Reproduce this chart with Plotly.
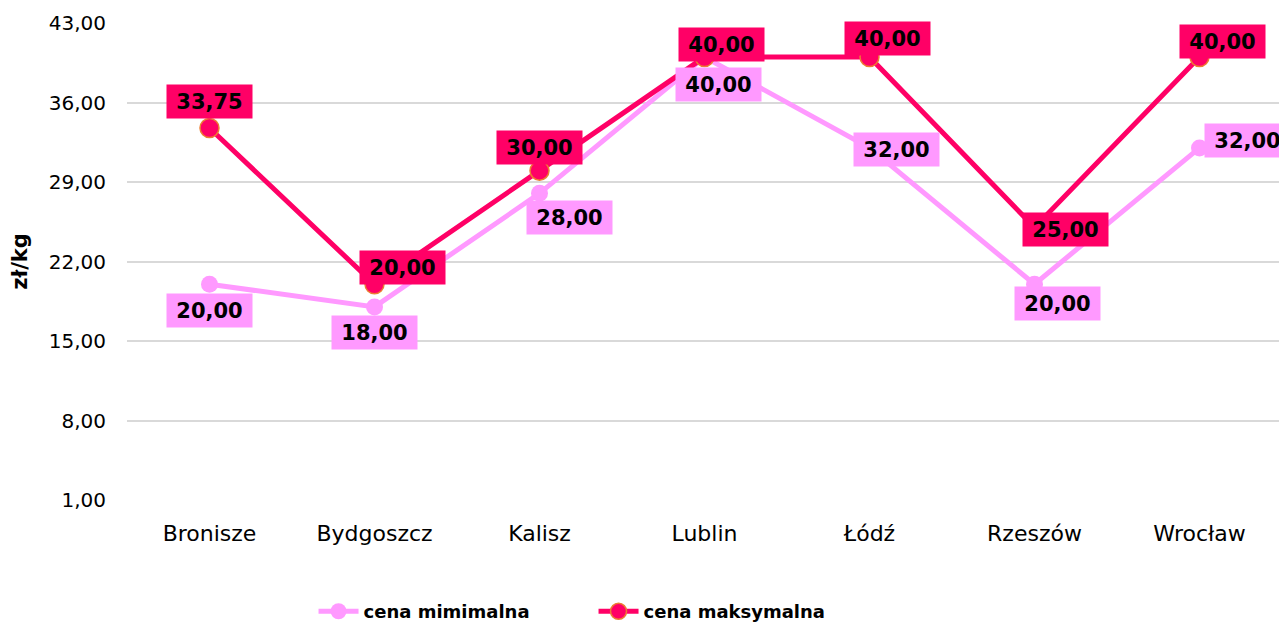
import plotly.graph_objects as go

categories = ["Bronisze", "Bydgoszcz", "Kalisz", "Lublin", "Łódź", "Rzeszów", "Wrocław"]
cena_min = [20.00, 18.00, 28.00, 40.00, 32.00, 20.00, 32.00]
cena_max = [33.75, 20.00, 30.00, 40.00, 40.00, 25.00, 40.00]
series_names = ["cena mimimalna", "cena maksymalna"]
y_ticks = [1, 8, 15, 22, 29, 36, 43]

# label offsets in px (x, y up)
min_shift = [(0, -26), (0, -26), (30, -24), (14, -27), (27, -2), (23, -19), (48, 7)]
max_shift = [(0, 27), (28, 17), (0, 23), (17, 13), (18, 19), (31, -2), (23, 16)]

C_MIN = "#FF99FF"
C_MAX = "#FF0066"
FONT = "DejaVu Sans, Verdana, sans-serif"


def fmt(v):
    return f"{v:.2f}".replace(".", ",")


fig = go.Figure()
fig.add_trace(go.Scatter(
    x=categories, y=cena_min, name=f"<b>{series_names[0]}</b>", mode="lines+markers",
    line=dict(color=C_MIN, width=5),
    marker=dict(color=C_MIN, size=17, line=dict(color=C_MIN, width=0)),
))
fig.add_trace(go.Scatter(
    x=categories, y=cena_max, name=f"<b>{series_names[1]}</b>", mode="lines+markers",
    line=dict(color=C_MAX, width=5),
    marker=dict(color=C_MAX, size=19, line=dict(color="#ED7D31", width=1.5)),
))

annotations = []
for vals, shifts, col in ((cena_min, min_shift, C_MIN), (cena_max, max_shift, C_MAX)):
    for c, v, (dx, dy) in zip(categories, vals, shifts):
        annotations.append(dict(
            x=c, y=v, xref="x", yref="y", text=f"<b>{fmt(v)}</b>",
            showarrow=False, xshift=dx, yshift=dy,
            bgcolor=col, borderpad=3, width=79, height=27,
            font=dict(family=FONT, size=21, color="#000000"),
            align="center", valign="middle",
        ))

fig.update_layout(
    width=1279, height=620,
    paper_bgcolor="white", plot_bgcolor="white",
    margin=dict(l=119, r=5, t=15, b=128, autoexpand=False),
    separators=",.",
    font=dict(family=FONT, size=20, color="#000000"),
    showlegend=True,
    legend=dict(
        orientation="h", x=0.1615, xanchor="left", y=-0.2727, yanchor="bottom",
        font=dict(family=FONT, size=18, color="#000000"),
        entrywidth=225, entrywidthmode="pixels", itemwidth=40,
    ),
    annotations=annotations,
)

fig.update_xaxes(
    type="category", range=[-0.5, 6.5], showgrid=False, zeroline=False,
    showline=False, ticks="", tickfont=dict(family=FONT, size=22, color="#000000"),
    ticklabelstandoff=18, automargin=False,
)
fig.update_yaxes(
    range=[1, 43], tickvals=y_ticks, tickformat=".2f",
    showgrid=True, gridcolor="#D9D9D9", gridwidth=2, zeroline=False, showline=False,
    ticks="", tickfont=dict(family=FONT, size=20, color="#000000"),
    ticklabelstandoff=20, automargin=False,
    title=dict(text="<b>zł/kg</b>", font=dict(family=FONT, size=21, color="#000000"), standoff=16),
)

fig.write_html("out.html")
